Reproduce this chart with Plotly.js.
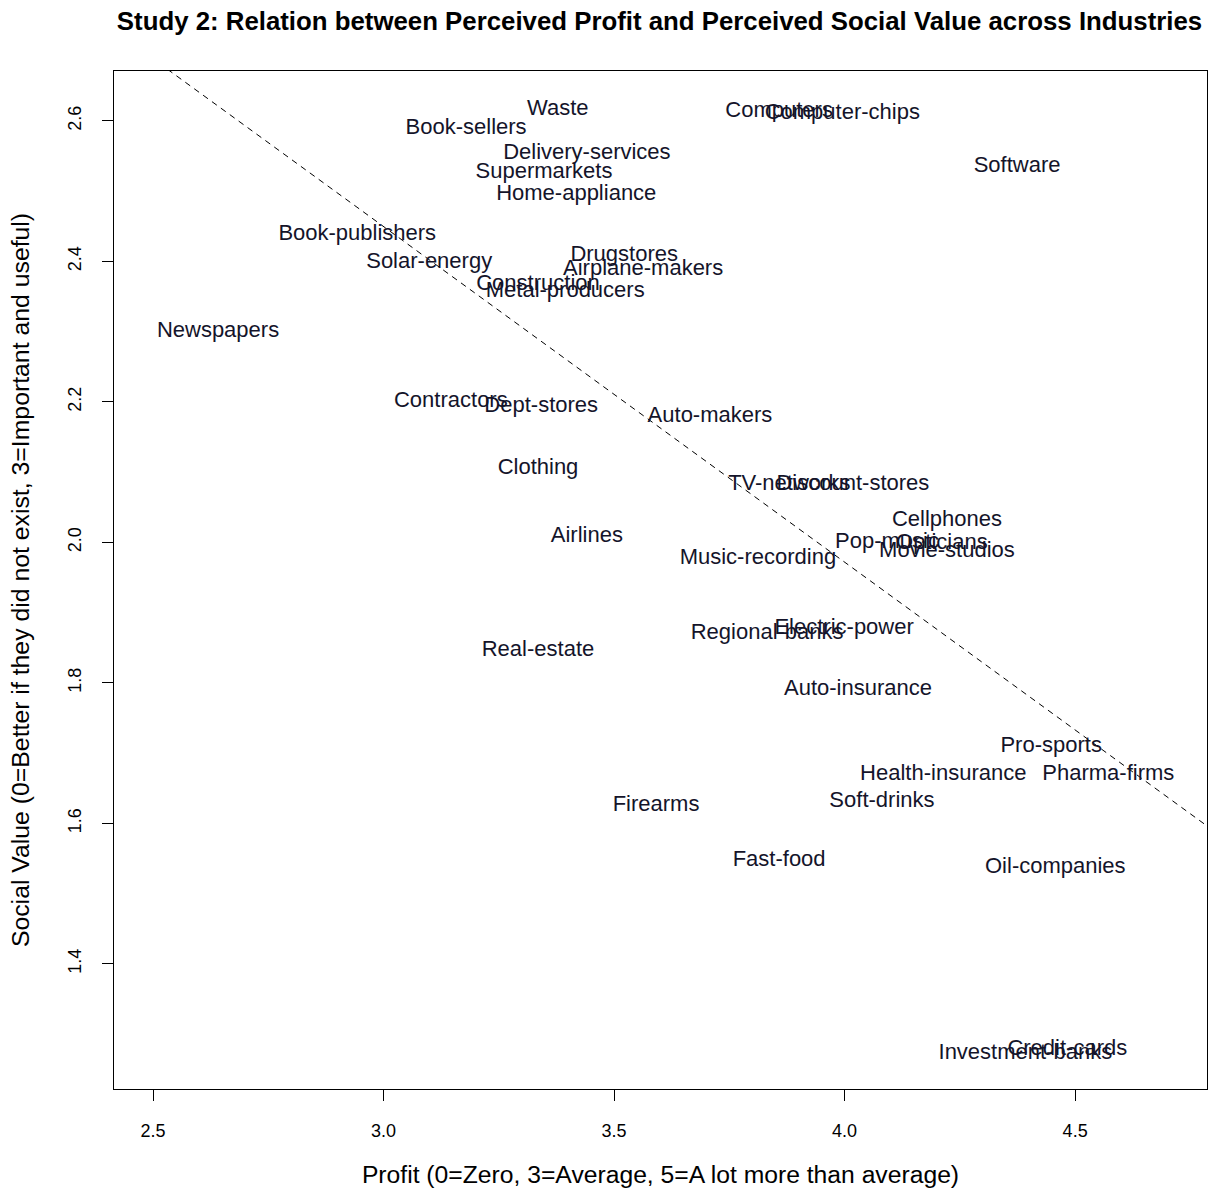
<!DOCTYPE html>
<html>
<head>
<meta charset="utf-8">
<script src="https://cdn.plot.ly/plotly-3.0.1.min.js"></script>
<style>
  html, body { margin: 0; padding: 0; background: #ffffff; }
  #chart { width: 1209px; height: 1192px; }
</style>
</head>
<body>
<div id="chart"></div>
<script>
// Industries with mean perceived profit (x) and perceived social value (y)
const industries = [
  "Waste", "Book-sellers", "Delivery-services", "Supermarkets", "Home-appliance",
  "Computers", "Computer-chips", "Software", "Book-publishers", "Solar-energy",
  "Drugstores", "Airplane-makers", "Construction", "Metal-producers", "Newspapers",
  "Contractors", "Dept-stores", "Auto-makers", "Clothing", "TV-networks",
  "Discount-stores", "Cellphones", "Pop-music", "Opticians", "Movie-studios",
  "Airlines", "Music-recording", "Regional-banks", "Electric-power", "Real-estate",
  "Auto-insurance", "Pro-sports", "Health-insurance", "Pharma-firms", "Firearms",
  "Soft-drinks", "Fast-food", "Oil-companies", "Investment-banks", "Credit-cards"
];
const profit = [
  3.378, 3.179, 3.441, 3.348, 3.418,
  3.858, 3.995, 4.374, 2.943, 3.099,
  3.522, 3.563, 3.335, 3.394, 2.641,
  3.146, 3.342, 3.708, 3.335, 3.880,
  4.018, 4.222, 4.092, 4.211, 4.222,
  3.441, 3.812, 3.832, 3.999, 3.335,
  4.029, 4.448, 4.214, 4.572, 3.591,
  4.081, 3.858, 4.457, 4.392, 4.483
];
const socialValue = [
  2.616, 2.589, 2.554, 2.527, 2.495,
  2.614, 2.611, 2.535, 2.438, 2.399,
  2.408, 2.389, 2.367, 2.357, 2.300,
  2.201, 2.194, 2.179, 2.105, 2.082,
  2.083, 2.031, 2.000, 1.999, 1.987,
  2.009, 1.977, 1.870, 1.878, 1.846,
  1.791, 1.710, 1.670, 1.670, 1.626,
  1.631, 1.547, 1.537, 1.272, 1.278
];

// Fitted trend line (dashed), given by its end points
const fitX = [2.30, 4.90];
const fitY = [2.784, 1.542];

const xTicks = [2.5, 3.0, 3.5, 4.0, 4.5];
const xTickText = ["2.5", "3.0", "3.5", "4.0", "4.5"];
const yTicks = [1.4, 1.6, 1.8, 2.0, 2.2, 2.4, 2.6];
const yTickText = ["1.4", "1.6", "1.8", "2.0", "2.2", "2.4", "2.6"];

const baseFont = "Liberation Sans, Arial, sans-serif";

const traces = [
  {
    type: "scatter",
    mode: "lines",
    x: fitX,
    y: fitY,
    line: { color: "#000000", width: 1, dash: "6px,5px" },
    hoverinfo: "skip",
    showlegend: false
  },
  {
    type: "scatter",
    mode: "text",
    x: profit,
    y: socialValue,
    text: industries,
    textposition: "middle center",
    textfont: { family: baseFont, size: 22, color: "#14142a" },
    cliponaxis: false,
    showlegend: false
  }
];

const layout = {
  width: 1209,
  height: 1192,
  paper_bgcolor: "#ffffff",
  plot_bgcolor: "#ffffff",
  margin: { l: 114, r: 2, t: 71, b: 103, pad: 0 },
  showlegend: false,
  title: {
    text: "<b>Study 2: Relation between Perceived Profit and Perceived Social Value across Industries</b>",
    font: { family: baseFont, size: 25.8, color: "#000000" },
    x: 0.5455, xanchor: "center",
    y: 0.982, yanchor: "middle"
  },
  xaxis: {
    range: [2.4154, 4.786],
    tickvals: xTicks,
    ticktext: xTickText,
    ticks: "outside",
    ticklen: 11,
    tickwidth: 1,
    tickcolor: "#000000",
    ticklabelstandoff: 14,
    tickfont: { family: baseFont, size: 18, color: "#000000" },
    showgrid: false,
    zeroline: false,
    showline: true,
    linecolor: "#000000",
    linewidth: 1,
    mirror: true,
    title: {
      text: "Profit (0=Zero, 3=Average, 5=A lot more than average)",
      font: { family: baseFont, size: 24.7, color: "#000000" },
      standoff: 26
    }
  },
  yaxis: {
    range: [1.222, 2.671],
    tickvals: yTicks,
    ticktext: yTickText,
    tickangle: -90,
    ticks: "outside",
    ticklen: 11,
    tickwidth: 1,
    tickcolor: "#000000",
    ticklabelstandoff: 14,
    tickfont: { family: baseFont, size: 18, color: "#000000" },
    showgrid: false,
    zeroline: false,
    showline: true,
    linecolor: "#000000",
    linewidth: 1,
    mirror: true,
    title: {
      text: "Social Value (0=Better if they did not exist, 3=Important and useful)",
      font: { family: baseFont, size: 24.8, color: "#000000" },
      standoff: 28
    }
  }
};

Plotly.newPlot("chart", traces, layout, { displayModeBar: false, staticPlot: true });
</script>
</body>
</html>
